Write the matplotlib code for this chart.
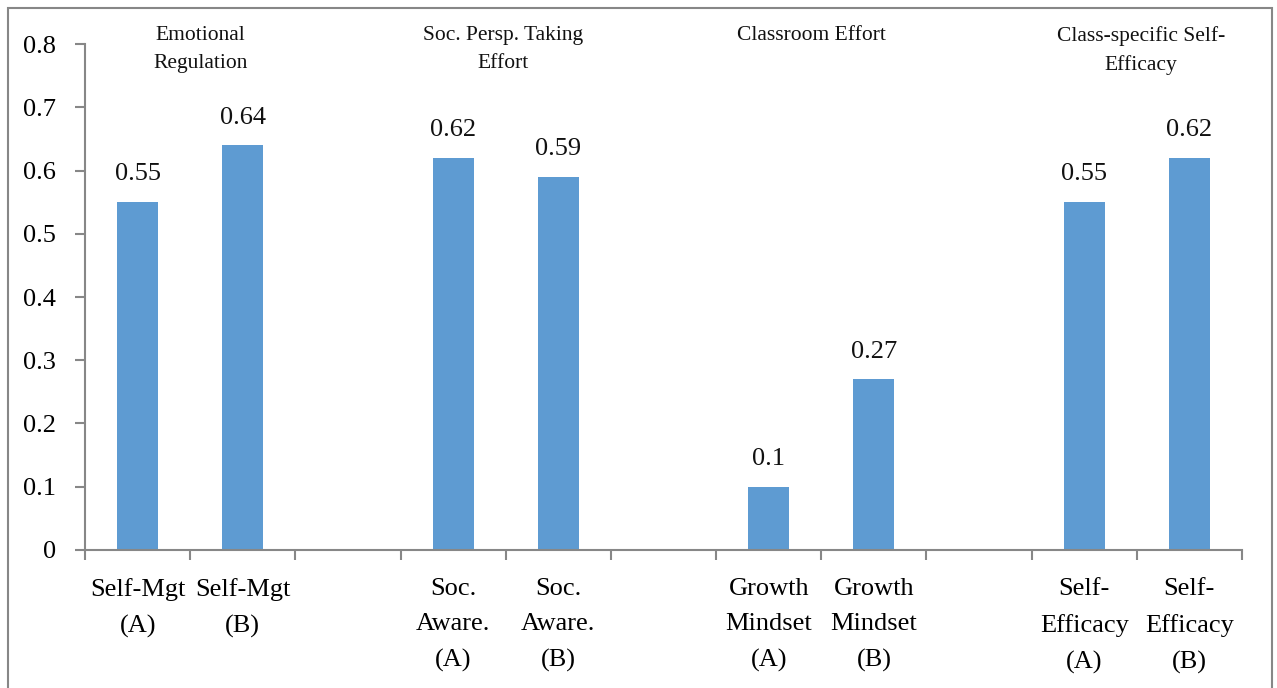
import numpy as np
import matplotlib.pyplot as plt
from matplotlib.patches import Rectangle

# Bar categories (empty slots separate the four groups)
labels = ["Self-Mgt\n(A)", "Self-Mgt\n(B)", "",
          "Soc.\nAware.\n(A)", "Soc.\nAware.\n(B)", "",
          "Growth\nMindset\n(A)", "Growth\nMindset\n(B)", "",
          "Self-\nEfficacy\n(A)", "Self-\nEfficacy\n(B)"]
values = [0.55, 0.64, np.nan,
          0.62, 0.59, np.nan,
          0.10, 0.27, np.nan,
          0.55, 0.62]
group_titles = ["Emotional\nRegulation", "Soc. Persp. Taking\nEffort",
                "Classroom Effort", "Class-specific Self-\nEfficacy"]
y_ticks = [0, 0.1, 0.2, 0.3, 0.4, 0.5, 0.6, 0.7, 0.8]

BAR_COLOR = "#5E9BD2"
AXIS_COLOR = "#878787"

plt.rcParams["font.family"] = ["Liberation Serif", "DejaVu Serif"]

fig = plt.figure(figsize=(12.77, 6.88), dpi=100)
ax = fig.add_axes([0.0666, 0.2006, 0.906, 0.7354])

x = np.arange(len(labels))
ax.bar(x, values, width=0.39, color=BAR_COLOR, zorder=2)

for xi, v in zip(x, values):
    if np.isnan(v):
        continue
    ax.annotate(f"{v:g}", (xi, v), xytext=(0, 12), textcoords="offset points",
                ha="center", va="bottom", fontsize=19, color="#111111")

ax.set_xlim(-0.5, len(labels) - 0.5)
ax.set_ylim(0, 0.8)

ax.set_yticks(y_ticks)
ax.set_yticklabels([f"{t:g}" for t in y_ticks])
ax.tick_params(axis="y", length=7, width=1.5, color=AXIS_COLOR,
               pad=14, labelsize=19)

ax.set_xticks(x)
ax.set_xticklabels(labels, linespacing=1.78)
ax.set_xticks(np.arange(-0.5, len(labels)), minor=True)
ax.tick_params(axis="x", which="major", length=0, pad=20, labelsize=19)
ax.tick_params(axis="x", which="minor", length=7, width=1.5,
               color=AXIS_COLOR)

for side in ["top", "right"]:
    ax.spines[side].set_visible(False)
for side in ["left", "bottom"]:
    ax.spines[side].set_color(AXIS_COLOR)
    ax.spines[side].set_linewidth(1.5)

# group captions above each pair of bars
title_x = [0.60, 3.47, 6.41, 9.54]
for tx, t in zip(title_x, group_titles):
    ax.text(tx, 0.828, t, ha="center", va="top", fontsize=15.5,
            linespacing=1.6, color="#111111")

# outer frame around the whole chart
fig.patches.append(Rectangle((0.0063, -0.02), 0.9898, 1.0084, fill=False,
                             edgecolor=AXIS_COLOR, linewidth=1.5,
                             transform=fig.transFigure, figure=fig))

fig.savefig("out.png", dpi=100, facecolor="white")
